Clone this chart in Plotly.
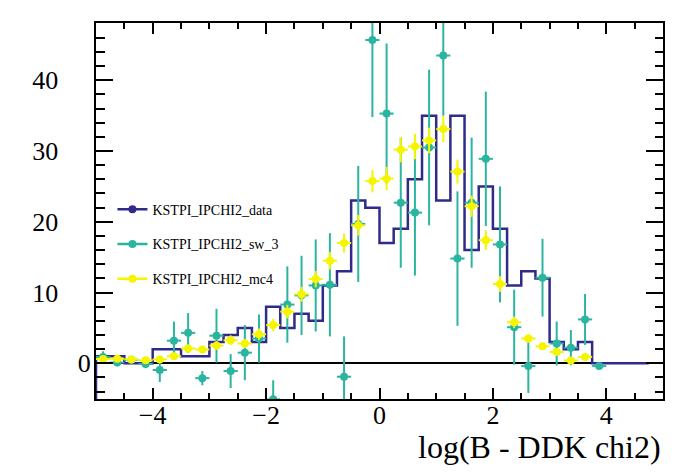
import numpy as np
import plotly.graph_objects as go

# binning of the histograms (40 bins of 0.25 from -5; data drawn up to 4.75)
x_min = -5.0
bin_width = 0.25

# KSTPI_IPCHI2_data : counts per bin (bins 0..38)
data_counts = [1, 1, 0, 0, 2, 2, 1, 1, 3, 4,
               5, 3, 8, 5, 7, 6, 11, 13, 23, 22,
               17, 19, 26, 35, 23, 35, 16, 25, 19, 11,
               13, 12, 3, 2, 3, 0, 0, 0, 0]

# KSTPI_IPCHI2_sw_3 : sweighted values and errors (bins 0..35)
sw_values = [0.9, 0.1, 0.5, -0.1, -0.95, 3.2, 4.3, -2.1, 3.9, -1.1,
             1.5, 3.5, -5.1, 8.3, 9.6, 11.0, 11.1, -1.9, 19.7, 45.7,
             35.3, 22.7, 21.3, 30.5, 43.5, 14.8, 22.7, 28.9, 16.8, 5.1,
             -0.4, 12.1, 2.8, 2.2, 6.2, -0.4]
sw_errors = [0.8, 0.5, 0.5, 0.6, 1.7, 2.7, 2.8, 1.0, 3.8, 2.4,
             3.9, 3.4, 2.7, 5.4, 5.6, 6.5, 7.3, 5.7, 8.2, 10.9,
             9.9, 9.2, 8.9, 11.0, 8.5, 9.5, 9.2, 9.5, 8.2, 5.3,
             3.8, 5.5, 3.1, 2.5, 3.6, 0.3]

# KSTPI_IPCHI2_mc4 : scaled MC values and errors (bins 0..34)
mc_values = [0.6, 0.65, 0.55, 0.42, 0.55, 1.0, 2.1, 1.95, 2.5, 3.25,
             2.8, 4.1, 5.4, 7.3, 9.75, 11.9, 14.5, 17.0, 19.5, 25.75,
             26.1, 30.2, 30.65, 31.5, 33.1, 27.1, 22.2, 17.4, 11.2, 5.8,
             3.5, 2.4, 1.6, 0.4, 0.9]
mc_errors = [0.3, 0.3, 0.3, 0.25, 0.3, 0.4, 0.55, 0.5, 0.6, 0.7,
             0.65, 0.8, 0.85, 0.95, 1.05, 1.15, 1.25, 1.35, 1.45, 1.6,
             1.65, 1.8, 1.8, 1.8, 1.85, 1.7, 1.5, 1.4, 1.1, 0.8,
             0.6, 0.5, 0.4, 0.2, 0.3]

y_ticks = [0, 10, 20, 30, 40]
y_range = [-5.05, 48.1]

purple = '#2f2b88'
teal = '#2bb5a0'
yellow = '#f5f500'


def centers(n):
    return x_min + bin_width * (np.arange(n) + 0.5)


edges = x_min + bin_width * np.arange(len(data_counts) + 1)
hist_x = [edges[0]] + list(edges)
hist_y = [y_range[0]] + data_counts + [data_counts[-1]]

fig = go.Figure()

fig.add_trace(go.Scatter(x=hist_x, y=hist_y, mode='lines', line_shape='hv',
                         line=dict(color=purple, width=2.5), showlegend=False))

fig.add_trace(go.Scatter(x=centers(len(sw_values)), y=sw_values, mode='markers',
                         marker=dict(color=teal, size=8),
                         error_y=dict(type='data', array=sw_errors, color=teal, thickness=2, width=0),
                         error_x=dict(type='constant', value=bin_width / 2, color=teal, thickness=2, width=0),
                         showlegend=False))

fig.add_trace(go.Scatter(x=centers(len(mc_values)), y=mc_values, mode='markers',
                         marker=dict(color=yellow, size=8),
                         error_y=dict(type='data', array=mc_errors, color=yellow, thickness=2, width=0),
                         error_x=dict(type='constant', value=bin_width / 2, color=yellow, thickness=2, width=0),
                         showlegend=False))

# legend entries (line + marker like the ROOT legend)
for name, col in [('KSTPI_IPCHI2_data', purple), ('KSTPI_IPCHI2_sw_3', teal), ('KSTPI_IPCHI2_mc4', yellow)]:
    fig.add_trace(go.Scatter(x=[None], y=[None], mode='lines+markers', name=name, legendgroup=name,
                             line=dict(color=col, width=2.5), marker=dict(color=col, size=8)))

axis_common = dict(showline=True, linewidth=2, linecolor='black', mirror='allticks',
                   ticks='inside', tickwidth=2, tickcolor='black', showgrid=False,
                   automargin=False, tickfont=dict(size=26, color='black'))

fig.update_xaxes(range=[-5, 5], tick0=0, dtick=2, ticklen=11, zeroline=False,
                 ticklabelstandoff=-8,
                 minor=dict(dtick=0.5, ticks='inside', ticklen=6, tickwidth=2, tickcolor='black'),
                 **axis_common)
# ROOT leaves the "0" label closer to the axis than the two-digit ones
pad = '\u00a0' * 5
fig.update_yaxes(range=y_range, tickvals=y_ticks,
                 ticktext=[str(v) if v == 0 else str(v) + pad for v in y_ticks],
                 ticklen=17, zeroline=True, zerolinecolor='black', zerolinewidth=2,
                 ticklabelstandoff=-2,
                 minor=dict(dtick=2, ticks='inside', ticklen=8.5, tickwidth=2, tickcolor='black'),
                 **axis_common)

fig.add_annotation(text='log(B - DDK chi2)', xref='paper', yref='paper', x=1.0, y=-0.127,
                   xanchor='right', yanchor='middle', showarrow=False,
                   font=dict(size=32, color='black'))

fig.update_layout(width=698, height=475,
                  margin=dict(l=88, r=43, t=15, b=84),
                  plot_bgcolor='white', paper_bgcolor='white',
                  font=dict(family='Liberation Serif', color='black'),
                  legend=dict(x=0.029, y=0.546, xanchor='left', yanchor='top',
                              bgcolor='rgba(0,0,0,0)', font=dict(size=14),
                              traceorder='grouped', tracegroupgap=13.5))

fig.write_html('out.html')
